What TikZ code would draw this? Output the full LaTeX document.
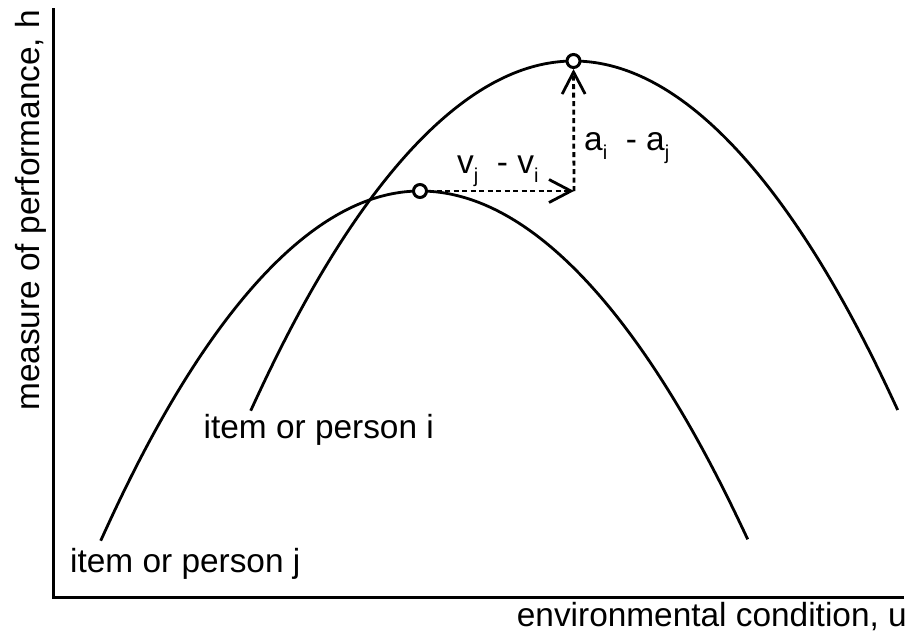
\documentclass[tikz,border=0pt]{standalone}
\usepackage{fontspec}
\setmainfont{Liberation Sans}
\usetikzlibrary{arrows.meta}
\newcommand\mysub[1]{\raisebox{-9pt}{\fontsize{20}{20}\selectfont #1}}
\begin{document}
\begin{tikzpicture}[x=1pt,y=-1pt,
  curve/.style={line width=2.8pt},
  axis/.style={line width=3pt},
  lbl/.style={font=\fontsize{33.4}{40}\selectfont, inner sep=0pt},
  dot/.style={circle, draw, line width=3pt, fill=white, minimum size=13pt, inner sep=0pt},
  darrow/.style={line width=2.8pt, dash pattern=on 5pt off 3.5pt,
    -{Straight Barb[length=22pt,width=23pt,line width=2.8pt]}}]
\useasboundingbox (0,0) rectangle (910,641);
% axes
\coordinate (ytop) at (53,8);
\coordinate (origin) at (53,597);
\coordinate (xend) at (904,597);
\draw[axis] (ytop) -- (origin) -- (xend);
% curve j
\coordinate (jL) at (100.7,540.7);
\coordinate (jP) at (420,191);
\coordinate (jR) at (747.7,539.3);
\draw[curve] (jL) parabola bend (jP) (jR);
% curve i
\coordinate (iL) at (250.7,410.7);
\coordinate (iP) at (573.5,61);
\coordinate (iR) at (897.7,410);
\draw[curve] (iL) parabola bend (iP) (iR);
% arrows
\coordinate (corner) at (574,191);
\node[dot] (pj) at (jP) {};
\node[dot] (pi) at (iP) {};
\draw[darrow] (pj) -- (corner);
\draw[darrow] (corner) -- (pi);
% labels
\node[lbl, anchor=base west] (vv) at (457,173) {v\mysub{j}\ \ - v\mysub{i}};
\node[lbl, anchor=base west] (aa) at (584,150) {a\mysub{i}\ \ - a\mysub{j}};
\node[lbl, anchor=base west] (li) at (203.5,438) {item or person i};
\node[lbl, anchor=base west] (lj) at (70,572) {item or person j};
\node[lbl, anchor=base east] (xl) at (907,626) {environmental condition, u};
\node[lbl, anchor=base west, rotate=90] (yl) at (39,411) {measure of performance, h};
\end{tikzpicture}
\end{document}
